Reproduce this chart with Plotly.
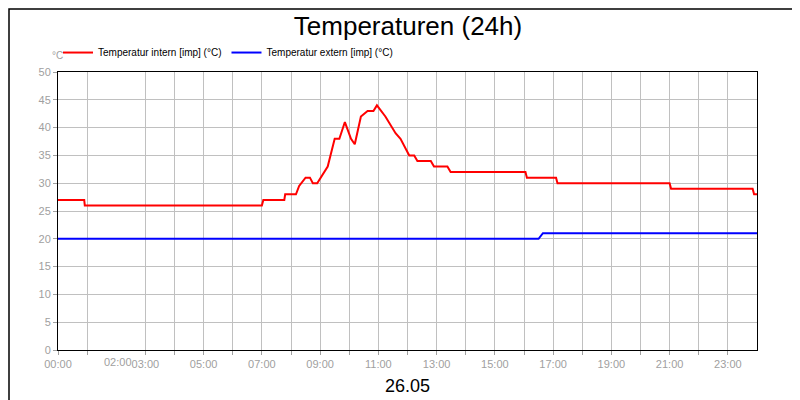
import plotly.graph_objects as go

# Stunden seit 00:00 / Temperatur intern
t_intern = [0, 0.9, 0.92, 7.0, 7.05, 7.77, 7.8, 8.17, 8.28, 8.5, 8.65, 8.75, 8.9, 9.26, 9.5, 9.66,
            9.85, 10.06, 10.19, 10.4, 10.63, 10.83, 10.95, 11.08, 11.24, 11.59, 11.76, 12.06, 12.23,
            12.34, 12.8, 12.91, 13.37, 13.48, 16.05, 16.1, 17.1, 17.15, 21.0, 21.05, 23.85, 23.9, 24]
v_intern = [27, 27, 26, 26, 27, 27, 28, 28, 29.5, 31, 31, 30, 30, 33, 38, 38,
            41, 38, 37, 42, 43, 43, 44, 43, 42, 39, 38, 35, 35,
            34, 34, 33, 33, 32, 32, 31, 31, 30, 30, 29, 29, 28, 28]
t_extern = [0, 16.5, 16.65, 24]
v_extern = [20, 20, 21, 21]

tick_vals = [0, 1, 3, 4, 5, 6, 7, 8, 9, 10, 11, 12, 13, 14, 15, 16, 17, 18, 19, 20, 21, 22, 23]
tick_text = ["00:00", "", "03:00", "", "05:00", "", "07:00", "", "09:00", "", "11:00", "",
             "13:00", "", "15:00", "", "17:00", "", "19:00", "", "21:00", "", "23:00"]

fig = go.Figure()
fig.add_trace(go.Scatter(x=t_intern, y=v_intern, mode="lines", name="Temperatur intern [imp] (°C)",
                         line=dict(color="#ff0000", width=2)))
fig.add_trace(go.Scatter(x=t_extern, y=v_extern, mode="lines", name="Temperatur extern [imp] (°C)",
                         line=dict(color="#0000ff", width=2)))

axis_common = dict(showgrid=True, gridcolor="#c0c0c0", gridwidth=1, zeroline=False,
                   showline=True, linecolor="black", mirror=True, ticks="outside",
                   tickcolor="#a0a0a0", ticklen=4, tickfont=dict(color="#a0a0a0", size=11))
fig.update_xaxes(range=[0, 24], tickvals=tick_vals, ticktext=tick_text, **axis_common)
fig.update_yaxes(range=[0, 50], dtick=5, **axis_common)

fig.update_layout(
    width=800, height=400,
    margin=dict(l=50, r=51, t=64, b=58, autoexpand=False),
    paper_bgcolor="white", plot_bgcolor="white",
    font=dict(family="Liberation Sans, Arial, sans-serif"),
    title=dict(text="Temperaturen (24h)", x=0.5, xanchor="center", y=0.955, yanchor="middle",
               font=dict(size=26, color="black")),
    showlegend=True,
    legend=dict(orientation="h", x=0.0, xanchor="left", y=1.07, yanchor="middle",
                font=dict(size=10, color="black"), itemwidth=30, bgcolor="rgba(0,0,0,0)"),
    annotations=[
        dict(text="02:00", x=2.05, y=0, xref="x", yref="y", yshift=-12, showarrow=False,
             font=dict(color="#a0a0a0", size=11)),
        dict(text="°C", x=-0.012, y=1.085, xref="paper", yref="paper", showarrow=False,
             font=dict(color="#a0a0a0", size=10)),
        dict(text="26.05", x=0.5, y=-0.13, xref="paper", yref="paper", showarrow=False,
             yanchor="middle", font=dict(size=18, color="black")),
    ],
    shapes=[dict(type="rect", xref="paper", yref="paper", x0=-49/699, x1=1 + 50/699,
                 y0=-57/278, y1=1 + 63/278, line=dict(color="black", width=1.5))],
)

fig.write_html("out.html")
